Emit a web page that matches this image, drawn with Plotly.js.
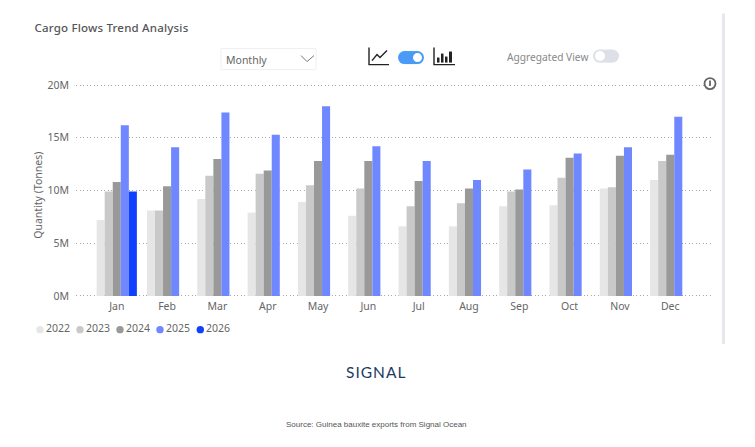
<!DOCTYPE html>
<html><head><meta charset="utf-8">
<script src="https://cdn.plot.ly/plotly-3.0.1.min.js"></script>
<style>html,body{margin:0;padding:0;background:#fff}#c{width:755px;height:447px}
.annotation[data-index="0"] text{letter-spacing:.2px}
.annotation[data-index="3"] text{letter-spacing:1px}
</style>
</head><body><div id="c"></div>
<script>
const months=["Jan","Feb","Mar","Apr","May","Jun","Jul","Aug","Sep","Oct","Nov","Dec"];
const v2022=[7.2,8.1,9.2,7.9,8.9,7.6,6.6,6.6,8.5,8.6,10.2,11.0];
const v2023=[9.9,8.1,11.4,11.6,10.5,10.2,8.5,8.8,9.9,11.2,10.3,12.8];
const v2024=[10.8,10.4,13.0,11.9,12.8,12.8,10.9,10.2,10.1,13.1,13.3,13.4];
const v2025=[16.2,14.1,17.4,15.3,18.0,14.2,12.8,11.0,12.0,13.5,14.1,17.0];
const v2026=[9.9];
const years=["2022","2023","2024","2025","2026"];
const colors=["#E6E6E6","#C9C9C9","#999999","#7088FF","#1040FF"];
const series=[v2022,v2023,v2024,v2025,v2026];
const yTicks=[0,5,10,15,20];
const yTickText=["0M","5M","10M","15M","20M"];
const FONT='"Noto Sans","Open Sans",sans-serif';
const L=76,R=712,T=85.5,B=296;
const pad=0.2, padPx=pad*(B-T)/20;
const X=x=>(x-L)/(R-L), Y=y=>(B+padPx-y)/(B-T+2*padPx);
const rect=(x0,y0,x1,y1,fill,line,w)=>({type:'rect',xref:'paper',yref:'paper',x0:X(x0),x1:X(x1),y0:Y(y0),y1:Y(y1),fillcolor:fill||'rgba(0,0,0,0)',line:{color:line||'rgba(0,0,0,0)',width:w||0}});
const circ=(cx,cy,r,fill,line,w)=>({type:'circle',xref:'paper',yref:'paper',x0:X(cx-r),x1:X(cx+r),y0:Y(cy-r),y1:Y(cy+r),fillcolor:fill||'rgba(0,0,0,0)',line:{color:line||'rgba(0,0,0,0)',width:w||0}});
const poly=(pts,color,w)=>({type:'path',xref:'paper',yref:'paper',path:pts.map((p,i)=>(i?'L':'M')+X(p[0])+','+Y(p[1])).join(' '),line:{color:color,width:w},fillcolor:'rgba(0,0,0,0)'});
const note=(x,y,text,size,color,anchor,extra)=>Object.assign({xref:'paper',yref:'paper',x:X(x),y:Y(y),text:text,showarrow:false,xanchor:anchor||'left',yanchor:'middle',font:{size:size,color:color,family:FONT},borderpad:0},extra||{});
const toggle=(x0,x1,y,r,fill,kx,kr)=>[rect(x0+r,y-r,x1-r,y+r,fill),circ(x0+r,y,r,fill),circ(x1-r,y,r,fill),circ(kx,y,kr,'#fff')];

const traces=series.map((vals,i)=>({type:'bar',name:years[i],x:months.slice(0,12),y:months.map((m,j)=>j<vals.length?vals[j]:null),marker:{color:colors[i],line:{width:0}}}));

const shapes=[
  rect(221,49,316,70,'#fff','#f0f0f0',1),
  poly([[301,56],[307,62],[314,56]],'#777',1),
  poly([[369,48],[369,65],[389,65]],'#222',1.4),
  poly([[372,61],[377,55],[380,58],[387,51]],'#222',1.4),
  ...toggle(398,424,58,6.5,'#4A9BF5',417.5,4.5),
  poly([[434,48],[434,65],[455,65]],'#222',1.4),
  rect(437,58,439.5,63,'#222'),rect(441,54,443.5,63,'#222'),rect(445,57,447.5,63,'#222'),rect(449,52,452,63,'#222'),
  ...toggle(593,619,56.5,6.5,'#DDE0E6',600,5),
  circ(710,84,5.5,'#fff','#666',1.8),
  rect(709.1,81,710.9,86.5,'#666'),
  rect(722,14,725,344,'#E6E8EC'),
];
years.forEach((y,i)=>shapes.push(circ(40+40*i+(i==4?0.3:0),329.7,3.7,colors[i])));

const annotations=[
  note(35.5,27.5,'Cargo Flows Trend Analysis',11.5,'#555','left',{font:{size:11.5,color:'#555',family:FONT,weight:500}}),
  note(225,60,'Monthly',10.5,'#666'),
  note(506,57.5,'Aggregated View',10.2,'#888'),
  note(376,372,'SIGNAL',15.5,'#1D3C63','center',{font:{size:15.5,color:'#1D3C63',family:'Lato,'+FONT}}),
  note(376,424,'Source: Guinea bauxite exports from Signal Ocean',8,'#555','center',{font:{size:8,color:'#555',family:'"Liberation Sans",Arial,sans-serif'}}),
  note(38,196,'Quantity (Tonnes)',10.5,'#666','center',{textangle:-90}),
];
years.forEach((y,i)=>annotations.push(note(45+40.1*i,328,y,10.5,'#666')));

Plotly.newPlot('c',traces,{
  width:755,height:447,
  margin:{l:L,r:755-R,t:T-padPx,b:447-B-padPx,pad:0},
  paper_bgcolor:'#fff',plot_bgcolor:'#fff',
  barmode:'group',bargap:0.2,bargroupgap:0,
  showlegend:false,
  font:{family:FONT,color:'#666',size:10.5},
  xaxis:{type:'category',categoryorder:'array',categoryarray:months,range:[-0.81,11.83],showgrid:false,zeroline:false,showline:false,ticks:'',tickfont:{size:10.5,color:'#666',family:FONT},automargin:false},
  yaxis:{range:[-pad,20+pad],tickmode:'array',tickvals:yTicks,ticktext:yTickText,showgrid:true,gridcolor:'#a8a8a8',griddash:'1px,2.5px',gridwidth:1,zeroline:false,showline:false,ticks:'',ticklabelstandoff:6,tickfont:{size:10.5,color:'#666',family:FONT},automargin:false},
  shapes:shapes,annotations:annotations
},{displayModeBar:false,staticPlot:true});
</script></body></html>
